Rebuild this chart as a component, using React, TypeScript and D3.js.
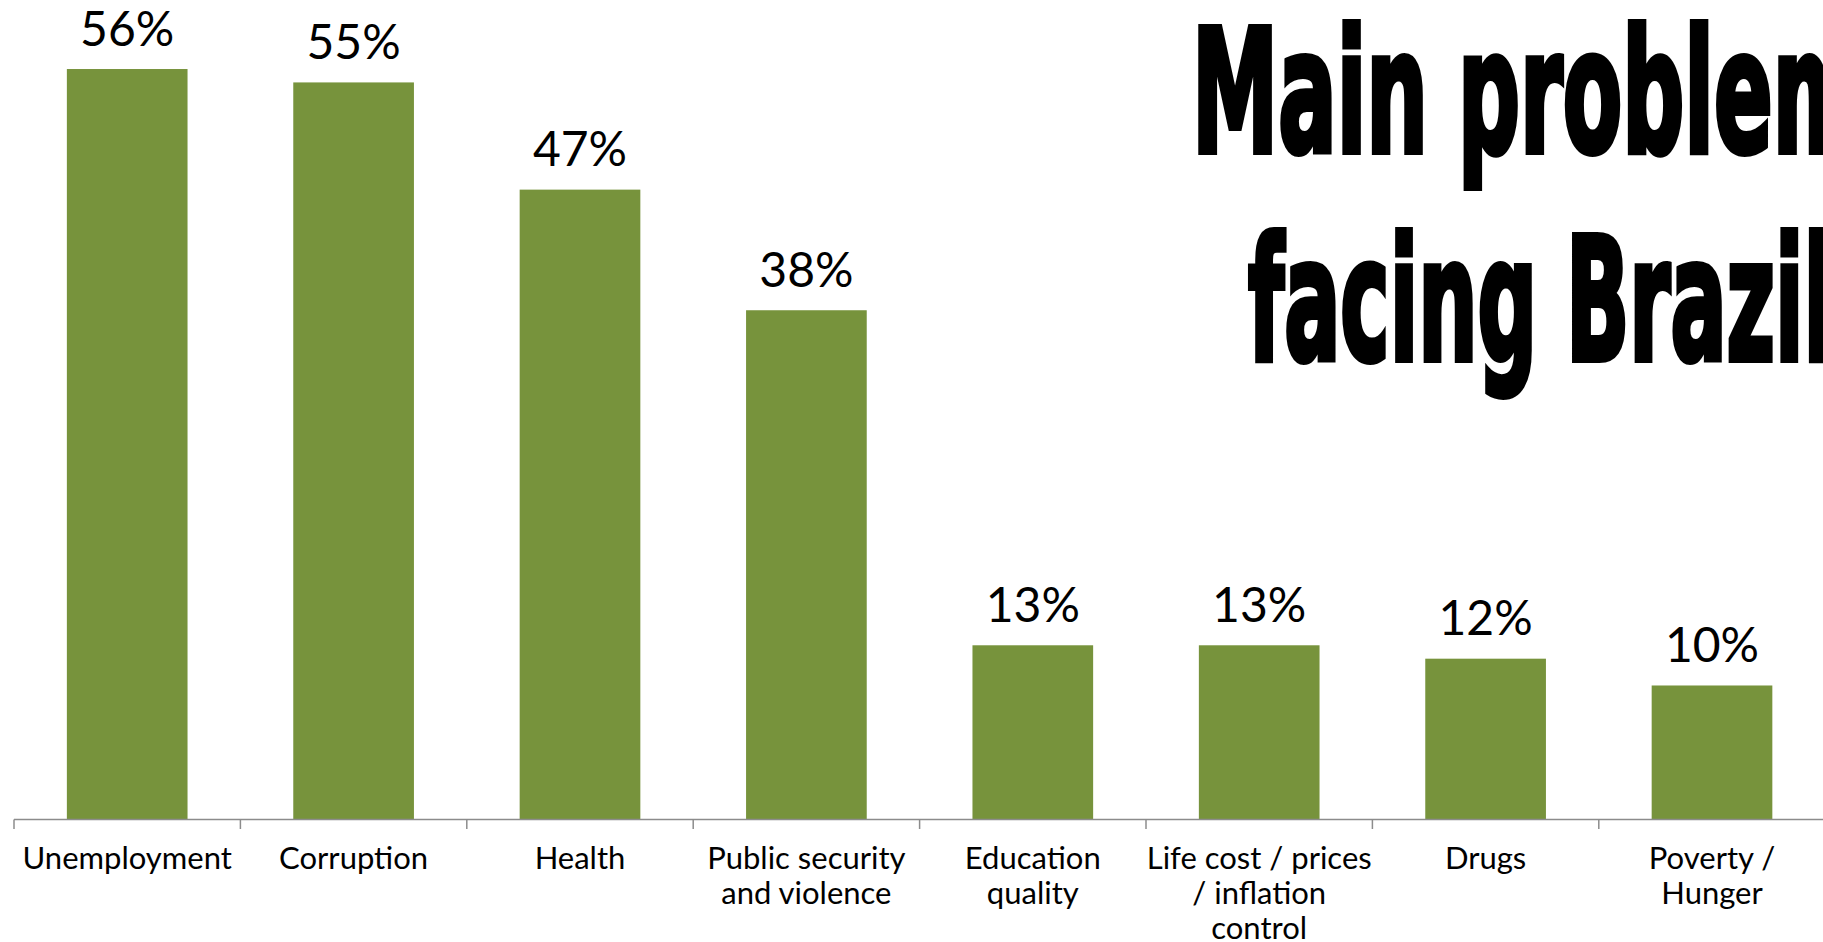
import React from "react";
import * as d3 from "d3";

const categories = [
  "Unemployment",
  "Corruption",
  "Health",
  "Public security and violence",
  "Education quality",
  "Life cost / prices / inflation control",
  "Drugs",
  "Poverty / Hunger",
];
const categoryLines = [
  ["Unemployment"],
  ["Corruption"],
  ["Health"],
  ["Public security", "and violence"],
  ["Education", "quality"],
  ["Life cost / prices", "/ inflation", "control"],
  ["Drugs"],
  ["Poverty /", "Hunger"],
];
const values = [56, 55, 47, 38, 13, 13, 12, 10];
const titleLines = ["Main problem", "facing Brazil"];

const W = 1823;
const H = 942;
const AXIS_Y = 819.5;
const STEP = 226.4;
const X0 = 14;

export default function App() {
  const x = d3
    .scaleBand<string>()
    .domain(categories)
    .range([X0, X0 + STEP * categories.length])
    .padding(0);
  const y = d3.scaleLinear().domain([0, 61.15]).range([AXIS_Y, 0]);
  const bw = x.step() * 0.533;
  const labelFont = "Lato, 'Open Sans', sans-serif";
  const titleFont = "'DejaVu Sans Condensed', 'DejaVu Sans', sans-serif";

  return (
    <svg
      width={W}
      height={H}
      style={{ position: "absolute", left: 0, top: 0, background: "#fff" }}
    >
      {categories.map((c, i) => {
        const cx = (x(c) as number) + x.bandwidth() / 2;
        const top = y(values[i]);
        return (
          <g key={c}>
            <rect
              x={cx - bw / 2}
              y={top}
              width={bw}
              height={AXIS_Y - top}
              fill="#77933C"
            />
            <text
              x={cx}
              y={top - 23.5}
              textAnchor="middle"
              fontFamily={labelFont}
              fontSize={48}
              fill="#000"
            >
              {values[i]}%
            </text>
            <text
              x={cx}
              y={AXIS_Y + 49.5}
              textAnchor="middle"
              fontFamily={labelFont}
              fontSize={31}
              fill="#000"
            >
              {categoryLines[i].map((ln, j) => (
                <tspan key={j} x={cx} dy={j === 0 ? 0 : 35}>
                  {ln}
                </tspan>
              ))}
            </text>
          </g>
        );
      })}
      <line
        x1={X0}
        x2={X0 + STEP * categories.length}
        y1={AXIS_Y}
        y2={AXIS_Y}
        stroke="#8C8C8C"
        strokeWidth={1.5}
      />
      {d3.range(categories.length + 1).map((i) => (
        <line
          key={i}
          x1={X0 + i * x.step()}
          x2={X0 + i * x.step()}
          y1={AXIS_Y}
          y2={AXIS_Y + 9.5}
          stroke="#8C8C8C"
          strokeWidth={1.5}
        />
      ))}
      <text
        x={1192}
        y={155 - 3}
        fontFamily={titleFont}
        fontWeight="bold"
        fontSize={172}
        textLength={671}
        lengthAdjust="spacingAndGlyphs"
        fill="#000"
        stroke="#000"
        strokeWidth={6}
        strokeLinejoin="miter"
      >
        {titleLines[0]}
      </text>
      <text
        x={1248}
        y={363 - 3}
        fontFamily={titleFont}
        fontWeight="bold"
        fontSize={172}
        textLength={584}
        lengthAdjust="spacingAndGlyphs"
        fill="#000"
        stroke="#000"
        strokeWidth={6}
        strokeLinejoin="miter"
      >
        {titleLines[1]}
      </text>
    </svg>
  );
}
